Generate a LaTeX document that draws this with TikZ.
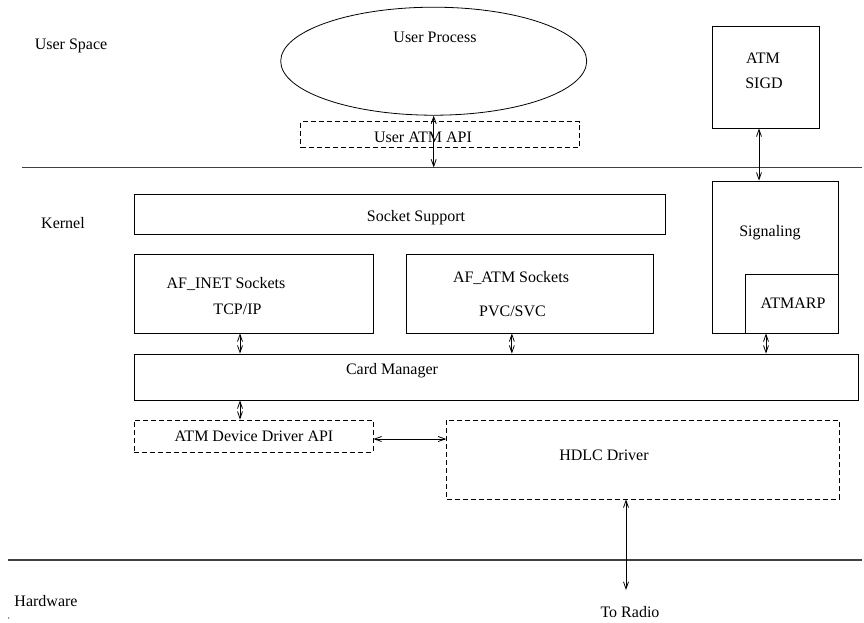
\documentclass[tikz,border=0pt]{standalone}
\usepackage{fontspec}
\setmainfont{Liberation Serif}
\usetikzlibrary{arrows.meta,shapes.geometric}
\begin{document}
\begin{tikzpicture}[x=1pt,y=-1pt,
  every node/.style={font=\fontsize{16}{19}\selectfont},
  box/.style={draw, line width=0.8pt, rectangle, inner sep=0pt},
  dbox/.style={box, dash pattern=on 5pt off 3pt},
  txt/.style={inner sep=0pt, text height=10.6pt, text depth=0pt, anchor=center},
  sep/.style={draw=black!75, line width=1.3pt},
  dbl/.style={line width=0.8pt, {Straight Barb[length=7pt,width=5pt]}-{Straight Barb[length=7pt,width=5pt]}}
]
\useasboundingbox (0,0) rectangle (864,622);

% separators
\coordinate (l1a) at (21.7,167.5);
\coordinate (l1b) at (862,167.5);
\coordinate (l2a) at (8.3,560);
\coordinate (l2b) at (862,560);
\draw[sep] (l1a) -- (l1b);
\draw[sep] (l2a) -- (l2b);

% region labels
\node[txt] (us) at (71,44) {User Space};
\node[txt] (kn) at (63,222.7) {Kernel};
\node[txt] (hw) at (46,601) {Hardware};
\node[txt] (tr) at (630,612) {To Radio};
\fill (8.7,618) circle (0.6);

% user space
\node[draw, ellipse, line width=0.8pt, minimum width=306pt, minimum height=108pt, inner sep=0pt] (up) at (433.7,61.2) {};
\node[txt] (uptxt) at (435,37.3) {User Process};
\node[dbox, minimum width=278.6pt, minimum height=26pt] (ua) at (440,134.7) {};
\node[txt] (uatxt) at (423,136.7) {User ATM API};
\node[box, minimum width=107pt, minimum height=102pt] (sigd) at (765.5,77) {};
\node[txt] (sigd1) at (763,58.3) {ATM};
\node[txt] (sigd2) at (764,83.3) {SIGD};

% kernel
\node[box, minimum width=531pt, minimum height=40pt] (ss) at (399.5,214) {};
\node[txt] (sstxt) at (416,216) {Socket Support};
\node[box, minimum width=239pt, minimum height=79pt] (inet) at (253.5,293.5) {};
\node[txt] (inet1) at (226,282.7) {AF\_INET Sockets};
\node[txt] (inet2) at (237.5,309) {TCP/IP};
\node[box, minimum width=246.3pt, minimum height=79pt] (atm) at (529.85,293.5) {};
\node[txt] (atm1) at (511,276.7) {AF\_ATM Sockets};
\node[txt] (atm2) at (512.5,310.7) {PVC/SVC};
\node[box, minimum width=126pt, minimum height=152pt] (sig) at (775,257) {};
\node[txt] (sigtxt) at (770,231) {Signaling};
\node[box, minimum width=93pt, minimum height=59pt] (arp) at (791.5,303.5) {};
\node[txt] (arptxt) at (793,303) {ATMARP};
\node[box, minimum width=724pt, minimum height=46pt] (card) at (496,377) {};
\node[txt] (cardtxt) at (392,369) {Card Manager};
\node[dbox, minimum width=239pt, minimum height=32pt] (dd) at (253.5,436) {};
\node[txt] (ddtxt) at (254,436) {ATM Device Driver API};
\node[dbox, minimum width=392.3pt, minimum height=79pt] (hdlc) at (642.85,459.5) {};
\node[txt] (hdlctxt) at (604,455) {HDLC Driver};

% connectors
\coordinate (rad) at (626,590);
\draw[dbl] (up.south) -- (up.south |- l1a);
\draw[dbl] ([xshift=-6.5pt]sigd.south) -- ([xshift=-6.5pt]sigd.south |- sig.north);
\draw[dbl] ([xshift=-13.5pt]inet.south) -- ([xshift=-13.5pt]inet.south |- card.north);
\draw[dbl] ([xshift=-18pt]atm.south) -- ([xshift=-18pt]atm.south |- card.north);
\draw[dbl] ([xshift=-9pt]sig.south) -- ([xshift=-9pt]sig.south |- card.north);
\draw[dbl] (card.south -| inet.south) ++(-13.5,0) coordinate (c1) -- (c1 |- dd.north);
\draw[dbl] ([yshift=-3pt]dd.east) -- ([yshift=-3pt]dd.east -| hdlc.west);
\draw[dbl] (hdlc.south -| rad) -- (rad);
\end{tikzpicture}
\end{document}
